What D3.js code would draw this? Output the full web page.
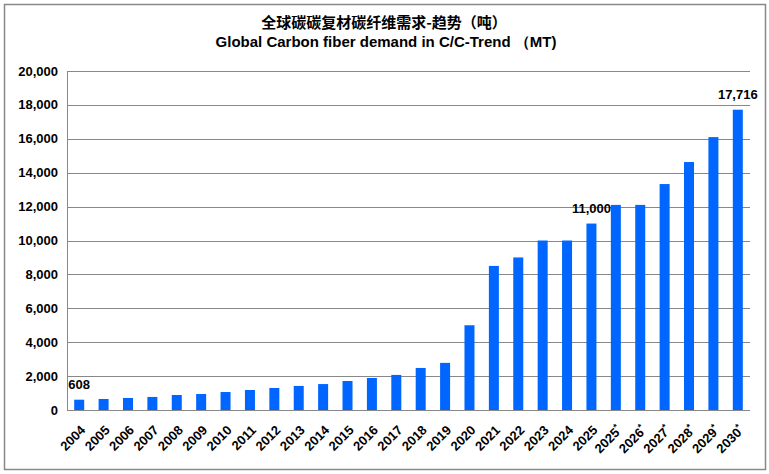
<!DOCTYPE html>
<html>
<head>
<meta charset="utf-8">
<script src="https://cdn.jsdelivr.net/npm/d3@7"></script>
<style>
  body { margin: 0; background: #fff; }
  text { font-family: Arial, "Liberation Sans", sans-serif; font-weight: bold; fill: #000; }
</style>
</head>
<body>
<div id="chart"></div>
<script>
var width = 769;
var height = 474;

// data
var years = ["2004", "2005", "2006", "2007", "2008", "2009", "2010", "2011", "2012", "2013",
    "2014", "2015", "2016", "2017", "2018", "2019", "2020", "2021", "2022", "2023",
    "2024", "2025", "2025*", "2026*", "2027*", "2028*", "2029*", "2030*"];
var demand = [608, 650, 710, 770, 885, 945, 1060, 1180, 1300, 1420,
    1530, 1710, 1890, 2070, 2480, 2780, 5000, 8500, 9000, 10000,
    10000, 11000, 12100, 12100, 13330, 14630, 16100, 17716];
var labelled = ["2004", "2025", "2030*"];
var yTicks = [0, 2000, 4000, 6000, 8000, 10000, 12000, 14000, 16000, 18000, 20000];

var margin = {top: 71, right: 19, bottom: 64, left: 67};

const svg = d3.select("#chart").append("svg")
    .attr("width", width)
    .attr("height", height);

// outer frame
svg.append("rect")
    .attr("x", 4.5).attr("y", 4.5)
    .attr("width", 761).attr("height", 465)
    .attr("fill", "#fff")
    .attr("stroke", "#888")
    .attr("stroke-width", 1.5);

// title
svg.append("text")
    .attr("x", 384).attr("y", 28)
    .attr("text-anchor", "middle")
    .style("font-family", "'Noto Sans CJK SC', sans-serif")
    .attr("font-size", 15)
    .text("全球碳碳复材碳纤维需求-趋势（吨）");
svg.append("text")
    .attr("x", 386).attr("y", 47)
    .attr("text-anchor", "middle")
    .attr("font-size", 15)
    .text("Global Carbon fiber demand in C/C-Trend （MT)");

var x = d3.scaleBand()
    .domain(years)
    .range([margin.left, width - margin.right])
    .paddingInner(0.59)
    .paddingOuter(0.295);

var y = d3.scaleLinear()
    .domain([0, 20000])
    .range([height - margin.bottom, margin.top]);

// gridlines
svg.append("g")
    .selectAll("line")
    .data(yTicks)
    .join("line")
    .attr("x1", margin.left)
    .attr("x2", width - margin.right)
    .attr("y1", d => Math.round(y(d)) + 0.5)
    .attr("y2", d => Math.round(y(d)) + 0.5)
    .attr("stroke", "#888")
    .attr("stroke-width", 1);

// left axis line
svg.append("line")
    .attr("x1", margin.left + 0.5).attr("x2", margin.left + 0.5)
    .attr("y1", y(20000)).attr("y2", y(0))
    .attr("stroke", "#888");

// y tick labels
svg.append("g")
    .selectAll("text")
    .data(yTicks)
    .join("text")
    .attr("x", 58)
    .attr("y", d => y(d))
    .attr("dy", "0.35em")
    .attr("text-anchor", "end")
    .attr("font-size", 13)
    .text(d => d3.format(",")(d));

// bars
svg.append("g")
    .selectAll("rect")
    .data(years)
    .join("rect")
    .attr("x", d => x(d))
    .attr("width", x.bandwidth())
    .attr("y", (d, i) => y(demand[i]))
    .attr("height", (d, i) => y(0) - y(demand[i]))
    .attr("fill", "#0066ff");

// value labels
svg.append("g")
    .selectAll("text")
    .data(years.filter(d => labelled.includes(d)))
    .join("text")
    .attr("x", d => x(d) + x.bandwidth() / 2)
    .attr("y", d => y(demand[years.indexOf(d)]) - 11)
    .attr("text-anchor", "middle")
    .attr("font-size", 13)
    .text(d => d3.format(",")(demand[years.indexOf(d)]));

// x labels, rotated
const xl = svg.append("g")
    .selectAll("text")
    .data(years)
    .join("text")
    .attr("font-size", 13)
    .attr("text-anchor", "end")
    .attr("transform", d => "translate(" + (x(d) + x.bandwidth() / 2 + 7) + "," + (y(0) + 21) + ") rotate(-45)");

xl.append("tspan").text(d => d.replace("*", ""));
xl.filter(d => d.includes("*"))
    .append("tspan")
    .attr("font-size", 9)
    .attr("dy", -5)
    .text("*");
</script>
</body>
</html>
